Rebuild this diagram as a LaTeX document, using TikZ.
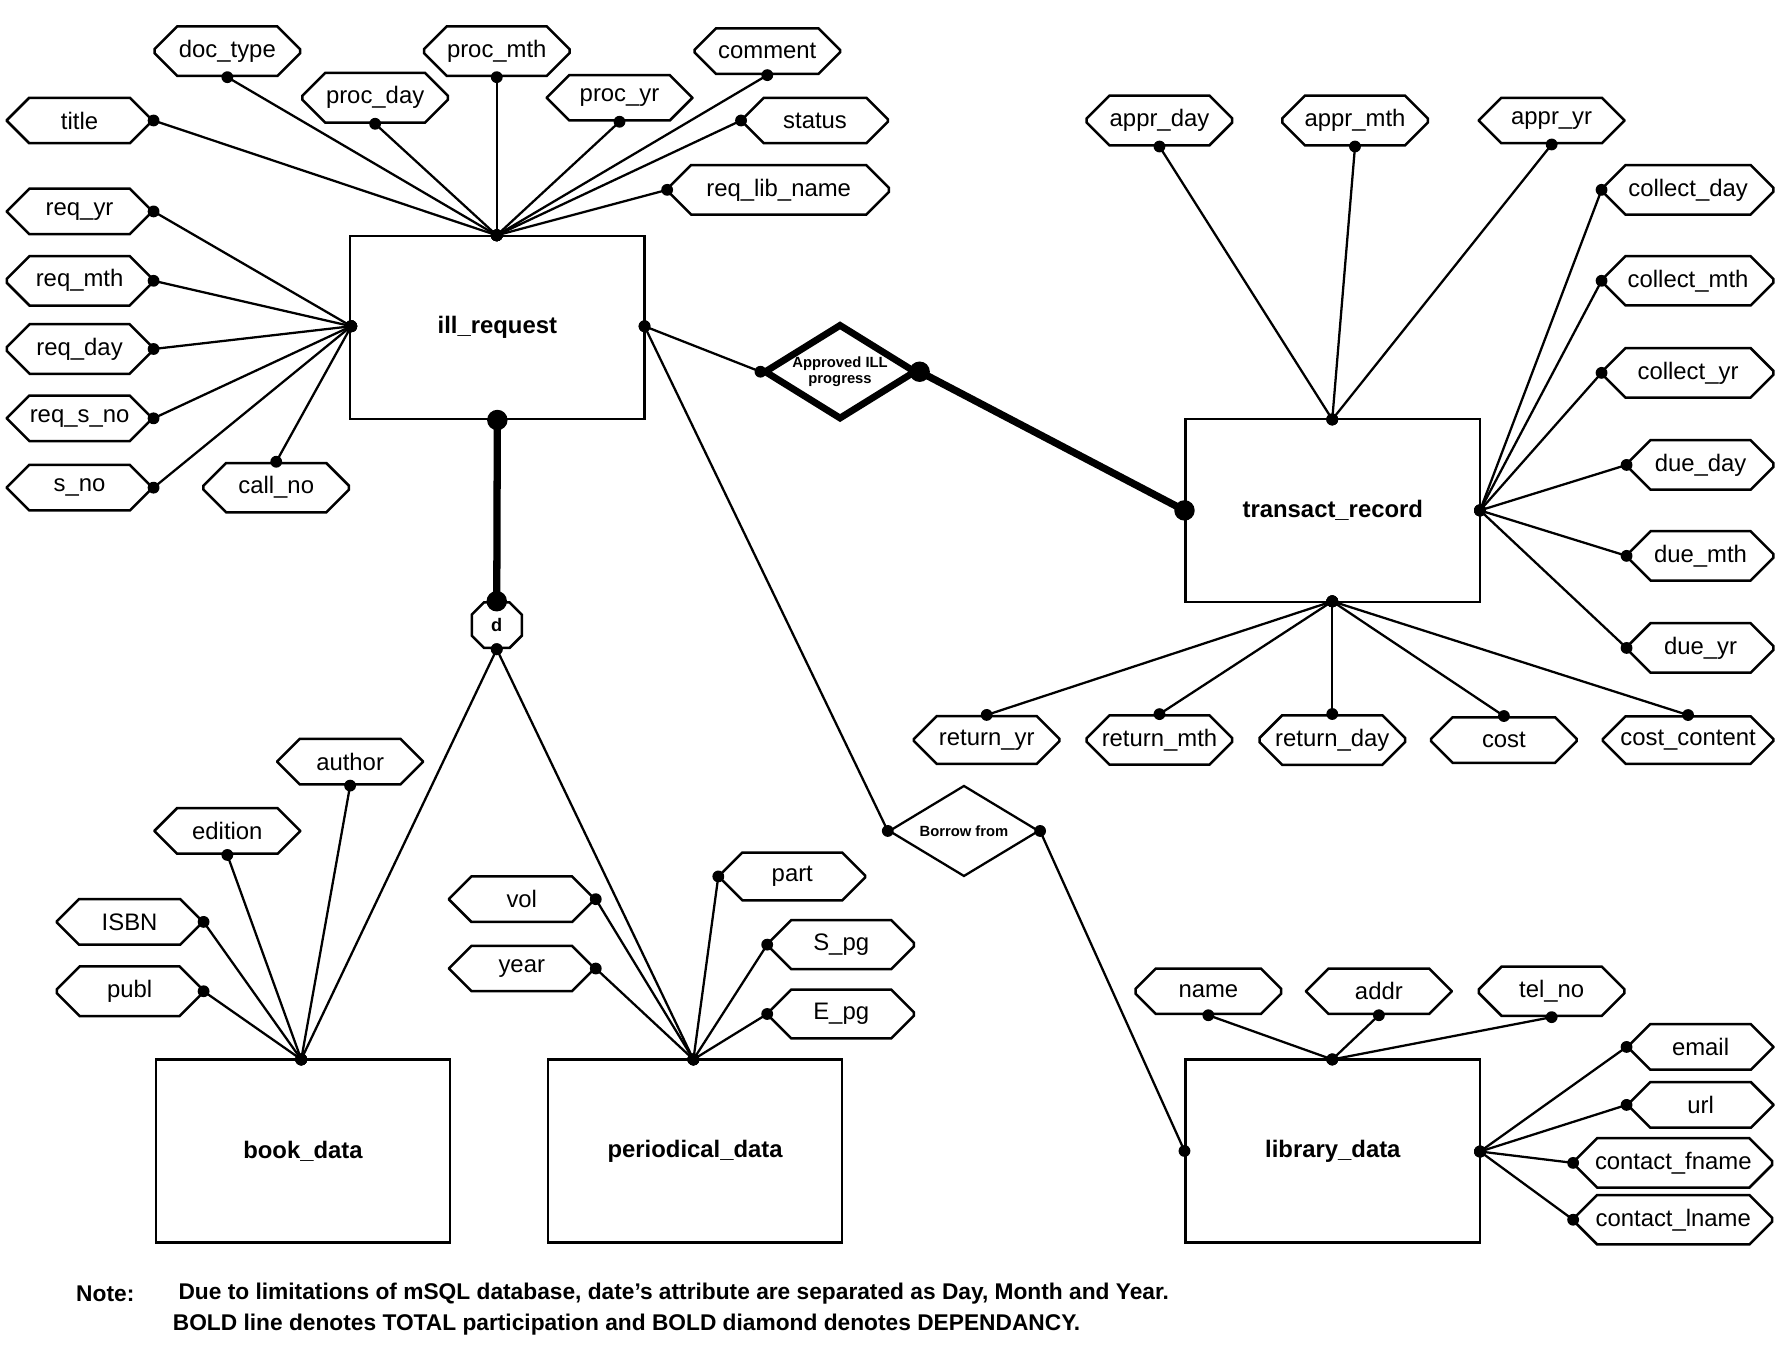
\documentclass[tikz,border=0pt]{standalone}
\usepackage{fontspec}
\setmainfont{Liberation Sans}
\usetikzlibrary{shapes.misc,shapes.geometric}
\newcommand\lnk[3][ln]{\draw[#1] (#2) -- (#3); \fill (#2) circle (2.6pt); \fill (#3) circle (2.6pt);}
\begin{document}
\begin{tikzpicture}[x=0.5pt,y=-0.5pt,
 attr/.style={draw,line width=1.1pt,chamfered rectangle,chamfered rectangle xsep=5pt,chamfered rectangle ysep=5pt,minimum width=64pt,minimum height=20pt,inner sep=1pt,font=\fontsize{10.5}{12}\selectfont},
 ent/.style={draw,line width=1pt,minimum width=129.5pt,minimum height=80.5pt,inner sep=0pt,font=\bfseries\fontsize{10.5}{12}\selectfont},
 ln/.style={line width=1pt},
 thk/.style={line width=3.2pt}]
\useasboundingbox (0,0) rectangle (1565,1189);
% ill_request
\node[ent] (ill) at (437.5,288) {ill\_request};
\node[attr] (doctype) at (200,45) {doc\_type};
\node[attr] (procmth) at (437,45) {proc\_mth};
\node[attr] (comment) at (675,45) {comment};
\node[attr] (title) at (70,106) {title};
\node[attr] (procday) at (330,86) {proc\_day};
\node[attr] (procyr) at (545,86) {proc\_yr};
\node[attr] (status) at (717,106) {status};
\node[attr,minimum width=97pt] (reqlib) at (685,167) {req\_lib\_name};
\node[attr] (reqyr) at (70,186) {req\_yr};
\node[attr] (reqmth) at (70,247) {req\_mth};
\node[attr] (reqday) at (70,307) {req\_day};
\node[attr] (reqsno) at (70,368) {req\_s\_no};
\node[attr] (sno) at (70,429) {s\_no};
\node[attr] (callno) at (243,429) {call\_no};
\coordinate (illT) at (437,207);
\coordinate (illL) at (309,287);
\coordinate (illR) at (567,287);
\lnk{doctype.south}{illT}
\lnk{procmth.south}{illT}
\lnk{comment.south}{illT}
\lnk{title.east}{illT}
\lnk{procday.south}{illT}
\lnk{procyr.south}{illT}
\lnk{status.west}{illT}
\lnk{reqlib.west}{illT}
\lnk{reqyr.east}{illL}
\lnk{reqmth.east}{illL}
\lnk{reqday.east}{illL}
\lnk{reqsno.east}{illL}
\lnk{sno.east}{illL}
\lnk{callno.north}{illL}
% approved diamond
\node[diamond,draw,line width=3pt,minimum width=67pt,minimum height=42pt,inner sep=0pt,aspect=1.6,font=\bfseries\fontsize{6.5}{7}\selectfont,align=center] (appr) at (739,327) {Approved ILL\\progress};
\lnk{illR}{appr.west}
% transact_record
\node[ent] (tr) at (1172.5,449) {transact\_record};
\draw[thk] (appr.east) -- (tr.west); \fill (appr.east) circle (4.5pt); \fill (tr.west) circle (4.5pt);
\coordinate (trT) at (1172,369);
\coordinate (trR) at (1302,449);
\coordinate (trB) at (1172,529);
\node[attr] (apprday) at (1020,106) {appr\_day};
\node[attr] (apprmth) at (1192,106) {appr\_mth};
\node[attr] (appryr) at (1365,106) {appr\_yr};
\node[attr,minimum width=75pt] (colday) at (1485,167) {collect\_day};
\node[attr,minimum width=75pt] (colmth) at (1485,247) {collect\_mth};
\node[attr,minimum width=75pt] (colyr) at (1485,328) {collect\_yr};
\node[attr] (dueday) at (1496,409) {due\_day};
\node[attr] (duemth) at (1496,489) {due\_mth};
\node[attr] (dueyr) at (1496,570) {due\_yr};
\node[attr] (retyr) at (868,651) {return\_yr};
\node[attr] (retmth) at (1020,651) {return\_mth};
\node[attr] (retday) at (1172,651) {return\_day};
\node[attr] (cost) at (1323,651) {cost};
\node[attr,minimum width=75pt] (costc) at (1485,651) {cost\_content};
\lnk{apprday.south}{trT}
\lnk{apprmth.south}{trT}
\lnk{appryr.south}{trT}
\lnk{colday.west}{trR}
\lnk{colmth.west}{trR}
\lnk{colyr.west}{trR}
\lnk{dueday.west}{trR}
\lnk{duemth.west}{trR}
\lnk{dueyr.west}{trR}
\lnk{retyr.north}{trB}
\lnk{retmth.north}{trB}
\lnk{retday.north}{trB}
\lnk{cost.north}{trB}
\lnk{costc.north}{trB}
% d
\node[draw,line width=1.1pt,chamfered rectangle,chamfered rectangle xsep=4pt,chamfered rectangle ysep=4pt,minimum width=22pt,minimum height=20pt,inner sep=0pt,font=\bfseries\fontsize{8}{9}\selectfont] (d) at (437,550) {d};
\draw[thk] (ill.south) -- (d.north); \fill (ill.south) circle (4.5pt); \fill (d.north) circle (4.5pt);
% book & periodical
\node[ent] (book) at (266.5,1012.5) {book\_data};
\node[ent] (per) at (611.5,1012.5) {periodical\_data};
\coordinate (bookT) at (265,932);
\coordinate (perT) at (610,932);
\lnk{d.south}{bookT}
\lnk{d.south}{perT}
\node[attr] (author) at (308,670) {author};
\node[attr] (edition) at (200,731) {edition};
\node[attr] (isbn) at (114,811) {ISBN};
\node[attr] (publ) at (114,872) {publ};
\lnk{author.south}{bookT}
\lnk{edition.south}{bookT}
\lnk{isbn.east}{bookT}
\lnk{publ.east}{bookT}
\node[attr] (vol) at (459,791) {vol};
\node[attr] (year) at (459,852) {year};
\node[attr] (part) at (697,771) {part};
\node[attr] (spg) at (740,831) {S\_pg};
\node[attr] (epg) at (740,892) {E\_pg};
\lnk{vol.east}{perT}
\lnk{year.east}{perT}
\lnk{part.west}{perT}
\lnk{spg.west}{perT}
\lnk{epg.west}{perT}
% borrow
\node[diamond,draw,line width=1pt,minimum width=66pt,minimum height=40pt,inner sep=0pt,aspect=1.65,font=\bfseries\fontsize{6.5}{7}\selectfont] (bor) at (848,731) {Borrow from};
\node[ent] (lib) at (1172.5,1012.5) {library\_data};
\lnk{illR}{bor.west}
\lnk{bor.east}{lib.west}
\coordinate (libT) at (1172,932);
\coordinate (libR) at (1302,1013);
\node[attr] (name) at (1063,872) {name};
\node[attr] (addr) at (1213,872) {addr};
\node[attr] (tel) at (1365,872) {tel\_no};
\node[attr] (email) at (1496,921) {email};
\node[attr] (url) at (1496,972) {url};
\node[attr,minimum width=87pt] (cf) at (1472,1023) {contact\_fname};
\node[attr,minimum width=87pt] (cl) at (1472,1073) {contact\_lname};
\lnk{name.south}{libT}
\lnk{addr.south}{libT}
\lnk{tel.south}{libT}
\lnk{email.west}{libR}
\lnk{url.west}{libR}
\lnk{cf.west}{libR}
\lnk{cl.west}{libR}
% note
\node[anchor=west,font=\bfseries\fontsize{10}{12}\selectfont] (note) at (60,1138) {Note:};
\node[anchor=west,font=\bfseries\fontsize{10}{12}\selectfont] (n1) at (150,1138) {Due to limitations of mSQL database, date's attribute are separated as Day, Month and Year.};
\node[anchor=west,font=\bfseries\fontsize{10}{12}\selectfont] (n2) at (145,1165) {BOLD line denotes TOTAL participation and BOLD diamond denotes DEPENDANCY.};
\end{tikzpicture}
\end{document}
